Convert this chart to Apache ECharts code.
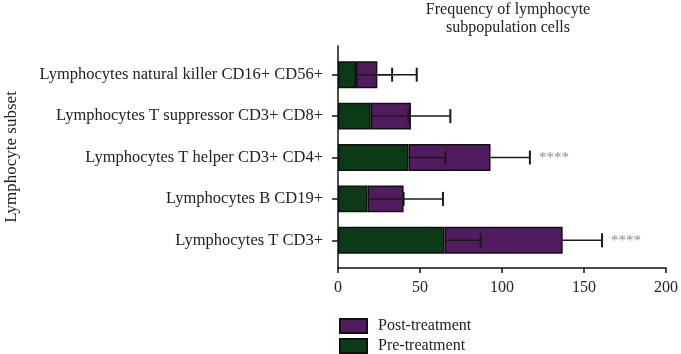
<!DOCTYPE html>
<html>
<head>
<meta charset="utf-8">
<script src="https://cdn.jsdelivr.net/npm/echarts@6/dist/echarts.min.js"></script>
<style>
html, body { margin: 0; padding: 0; background: #fff; }
#chart { width: 681px; height: 354px; }
</style>
</head>
<body>
<div id="chart"></div>
<script>
// bottom to top, as on the category axis
var categories = [
    'Lymphocytes T CD3+',
    'Lymphocytes B CD19+',
    'Lymphocytes T helper CD3+ CD4+',
    'Lymphocytes T suppressor CD3+ CD8+',
    'Lymphocytes natural killer CD16+ CD56+'
];
var preMean = [65, 18, 43, 20, 11];
var preSd = [22, 22, 22.5, 23, 22];
var postMean = [72, 22, 50, 24.5, 13];   // stacked on top of pre
var postSd = [24, 24, 24, 24, 24];
var signif = ['****', '', '****', '', ''];
var xTicks = [0, 50, 100, 150, 200];

var FONT = '"Liberation Serif", "DejaVu Serif", serif';
var GREEN = '#0a3a16';
var PURPLE = '#521b5f';

function errorData(starts, sds) {
    var out = [];
    for (var i = 0; i < starts.length; ++i) {
        out.push([starts[i], i, starts[i] + sds[i]]);
    }
    return out;
}

var totals = preMean.map(function (v, i) { return v + postMean[i]; });

function makeRender(withStars) {
    return function (params, api) {
        var idx = api.value(1);
        var a = api.coord([api.value(0), idx]);
        var b = api.coord([api.value(2), idx]);
        var cap = 7;
        var children = [
            { type: 'line', shape: { x1: a[0], y1: a[1], x2: b[0], y2: b[1] }, style: { stroke: '#1a1a1a', lineWidth: 1.5 } },
            { type: 'line', shape: { x1: b[0], y1: b[1] - cap, x2: b[0], y2: b[1] + cap }, style: { stroke: '#1a1a1a', lineWidth: 2 } }
        ];
        if (withStars && signif[idx]) {
            children.push({
                type: 'text',
                style: { x: b[0] + 9, y: b[1] + 1, text: signif[idx], fill: '#8a8a8a', font: '15px ' + FONT, verticalAlign: 'middle' }
            });
        }
        return { type: 'group', children: children };
    };
}

function legendFor(name, top) {
    return {
        data: [{ name: name, icon: 'rect' }],
        orient: 'vertical',
        left: 334,
        top: top,
        itemWidth: 27,
        itemHeight: 14,
        textStyle: { fontFamily: FONT, fontSize: 16, color: '#222', padding: [0, 0, 0, 6] }
    };
}

var chart = echarts.init(document.getElementById('chart'));
chart.setOption({
    animation: false,
    title: {
        text: 'Frequency of lymphocyte\nsubpopulation cells',
        left: 503,
        top: -4,
        textAlign: 'center',
        textStyle: { fontFamily: FONT, fontSize: 16, fontWeight: 'normal', color: '#222', lineHeight: 18 }
    },
    legend: [legendFor('Post-treatment', 313), legendFor('Pre-treatment', 333)],
    grid: [
        { left: 338, right: 13, top: 54, bottom: 93 },
        { left: 338, right: 13, top: 46, bottom: 86 }
    ],
    xAxis: [
        {
            gridIndex: 0, type: 'value', min: xTicks[0], max: xTicks[xTicks.length - 1], interval: 50,
            offset: 7,
            axisLine: { show: true, lineStyle: { color: '#111', width: 1.5 } },
            axisTick: { show: true, length: 5, lineStyle: { color: '#111', width: 1.5 } },
            axisLabel: { fontFamily: FONT, fontSize: 16, color: '#222', margin: 12 },
            splitLine: { show: false }
        },
        { gridIndex: 1, type: 'value', min: 0, max: 200, show: false }
    ],
    yAxis: [
        {
            gridIndex: 0, type: 'category', data: categories,
            axisLine: { show: false },
            axisTick: { show: true, length: 6, alignWithLabel: true, lineStyle: { color: '#111', width: 1.5 } },
            axisLabel: { fontFamily: FONT, fontSize: 16.5, color: '#222', margin: 15 }
        },
        {
            gridIndex: 1, type: 'value', min: 0, max: 1,
            name: 'Lymphocyte subset', nameLocation: 'middle', nameGap: 318,
            nameTextStyle: { fontFamily: FONT, fontSize: 17, color: '#222' },
            axisLine: { show: true, lineStyle: { color: '#111', width: 1.5 } },
            axisTick: { show: false },
            axisLabel: { show: false },
            splitLine: { show: false }
        }
    ],
    series: [
        {
            name: 'Pre-treatment', type: 'bar', stack: 'total', data: preMean,
            barCategoryGap: '35%',
            itemStyle: { color: GREEN, borderColor: '#111', borderWidth: 1.5 }
        },
        {
            name: 'Post-treatment', type: 'bar', stack: 'total', data: postMean,
            barCategoryGap: '35%',
            itemStyle: { color: PURPLE, borderColor: '#111', borderWidth: 1.5 }
        },
        {
            type: 'custom', z: 5, renderItem: makeRender(false),
            encode: { x: [0, 2], y: 1 }, data: errorData(preMean, preSd)
        },
        {
            type: 'custom', z: 5, renderItem: makeRender(true),
            encode: { x: [0, 2], y: 1 }, data: errorData(totals, postSd)
        }
    ]
});
</script>
</body>
</html>
